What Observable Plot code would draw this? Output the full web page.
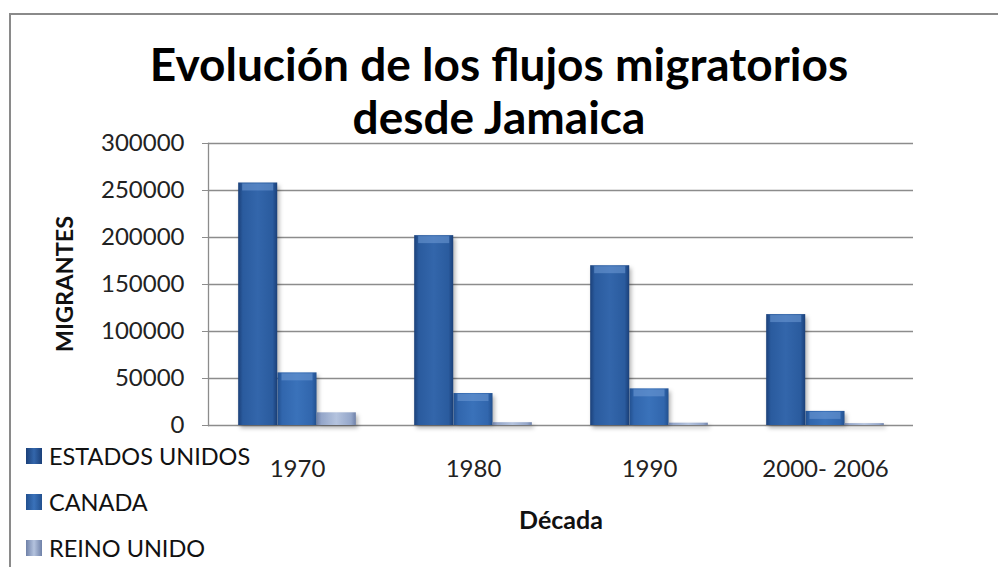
<!DOCTYPE html>
<html><head><meta charset="utf-8">
<script src="https://cdn.jsdelivr.net/npm/d3@7"></script>
<script src="https://cdn.jsdelivr.net/npm/@observablehq/plot@0.6"></script>
<style>
body{margin:0;background:#fff;}
#wrap{position:relative;width:998px;height:567px;overflow:hidden;font-family:Lato,"Open Sans",sans-serif;color:#111;background:#fff;}
#frame{position:absolute;left:9px;top:13px;width:1100px;height:700px;border-top:2px solid #8a8a8a;border-left:2px solid #8a8a8a;box-sizing:border-box;}
#chart{position:absolute;left:0;top:0;}
#title{position:absolute;left:0;top:37px;width:998px;text-align:center;font-weight:bold;font-size:46px;line-height:53px;color:#000;}
#ylab{position:absolute;left:64px;top:284px;transform:translate(-50%,-50%) rotate(-90deg);font-weight:bold;font-size:23.5px;white-space:nowrap;color:#111;}
#xlab{position:absolute;left:561px;top:519px;transform:translate(-50%,-50%);font-weight:bold;font-size:25px;color:#111;}
#legend{position:absolute;left:26px;top:433px;}
.li{height:46px;display:flex;align-items:center;font-size:23.5px;color:#111;}
.sw{width:16px;height:16px;margin-right:7px;}
svg g[aria-label="bar"]{filter:drop-shadow(2px 3px 2px rgba(0,0,0,0.3));}
</style></head>
<body>
<svg width="0" height="0" style="position:absolute">
<defs>
<linearGradient id="gUS" x1="0" x2="1" y1="0" y2="0">
<stop offset="0" stop-color="#1b4079"/><stop offset="0.12" stop-color="#2a5b9e"/><stop offset="0.5" stop-color="#3366ab"/><stop offset="0.88" stop-color="#2a5b9e"/><stop offset="1" stop-color="#1b4079"/>
</linearGradient>
<linearGradient id="gCA" x1="0" x2="1" y1="0" y2="0">
<stop offset="0" stop-color="#22508f"/><stop offset="0.12" stop-color="#3166ad"/><stop offset="0.5" stop-color="#3a72ba"/><stop offset="0.88" stop-color="#3166ad"/><stop offset="1" stop-color="#22508f"/>
</linearGradient>
<linearGradient id="gUK" x1="0" x2="1" y1="0" y2="0">
<stop offset="0" stop-color="#6f81a8"/><stop offset="0.12" stop-color="#94a6c9"/><stop offset="0.5" stop-color="#b4c3de"/><stop offset="0.88" stop-color="#94a6c9"/><stop offset="1" stop-color="#6f81a8"/>
</linearGradient>
</defs>
</svg>
<div id="wrap">
<div id="frame"></div>
<div id="chart"></div>
<div id="title">Evolución de los flujos migratorios<br>desde Jamaica</div>
<div id="ylab">MIGRANTES</div>
<div id="xlab">Década</div>
<div id="legend"></div>
</div>
<script>
const decades = ["1970", "1980", "1990", "2000- 2006"];
const seriesNames = ["ESTADOS UNIDOS", "CANADA", "REINO UNIDO"];
const estadosUnidos = [258000, 202000, 170000, 118000];
const canada = [56000, 34000, 39000, 15000];
const reinoUnido = [13500, 3000, 2500, 2000];
const yTicks = [0, 50000, 100000, 150000, 200000, 250000, 300000];

const seriesValues = [estadosUnidos, canada, reinoUnido];
const fills = ["url(#gUS)", "url(#gCA)", "url(#gUK)"];
const swatch = ["linear-gradient(90deg,#1b4079,#3366ab,#1b4079)", "linear-gradient(90deg,#22508f,#3a72ba,#22508f)", "linear-gradient(90deg,#6f81a8,#b4c3de,#6f81a8)"];

const band = 705 / decades.length;
const barW = 39.3;
const inset = (band - barW) / 2;

const barMarks = seriesValues.flatMap((vals, i) => {
  const data = decades.map((d, j) => ({decade: d, value: vals[j]}));
  const marks = [Plot.barY(data, {x: "decade", y: "value", fill: fills[i], dx: (i - 1) * barW, insetLeft: inset, insetRight: inset})];
  if (i < 2) marks.push(Plot.tickY(data, {x: "decade", y: "value", stroke: "#6f9ad6", strokeOpacity: 0.55, strokeWidth: 7, dy: 4, dx: (i - 1) * barW, insetLeft: inset + 4, insetRight: inset + 4}));
  return marks;
});

const plot = Plot.plot({
  width: 998, height: 567,
  marginLeft: 208, marginRight: 85, marginTop: 143, marginBottom: 142,
  x: {domain: decades, padding: 0, axis: null},
  y: {domain: [0, 300000], axis: null},
  style: {fontFamily: "Lato, sans-serif", fontSize: "24px", background: "transparent"},
  marks: [
    Plot.ruleY(yTicks, {stroke: "#8c8c8c", strokeWidth: 1.3}),
    Plot.frame({anchor: "left", stroke: "#8c8c8c", strokeWidth: 1.3}),
    Plot.axisY({ticks: yTicks, tickFormat: d3.format("d"), tickSize: 6, tickPadding: 18, stroke: "#8c8c8c", fill: "#222", label: null}),
    Plot.axisX({tickSize: 0, tickPadding: 34, fill: "#222", label: null}),
    ...barMarks
  ]
});
document.getElementById("chart").appendChild(plot);

const leg = document.getElementById("legend");
seriesNames.forEach((s, i) => {
  const row = document.createElement("div");
  row.className = "li";
  row.innerHTML = `<span class="sw" style="background:${swatch[i]}"></span><span>${s}</span>`;
  leg.appendChild(row);
});
</script>
</body></html>
